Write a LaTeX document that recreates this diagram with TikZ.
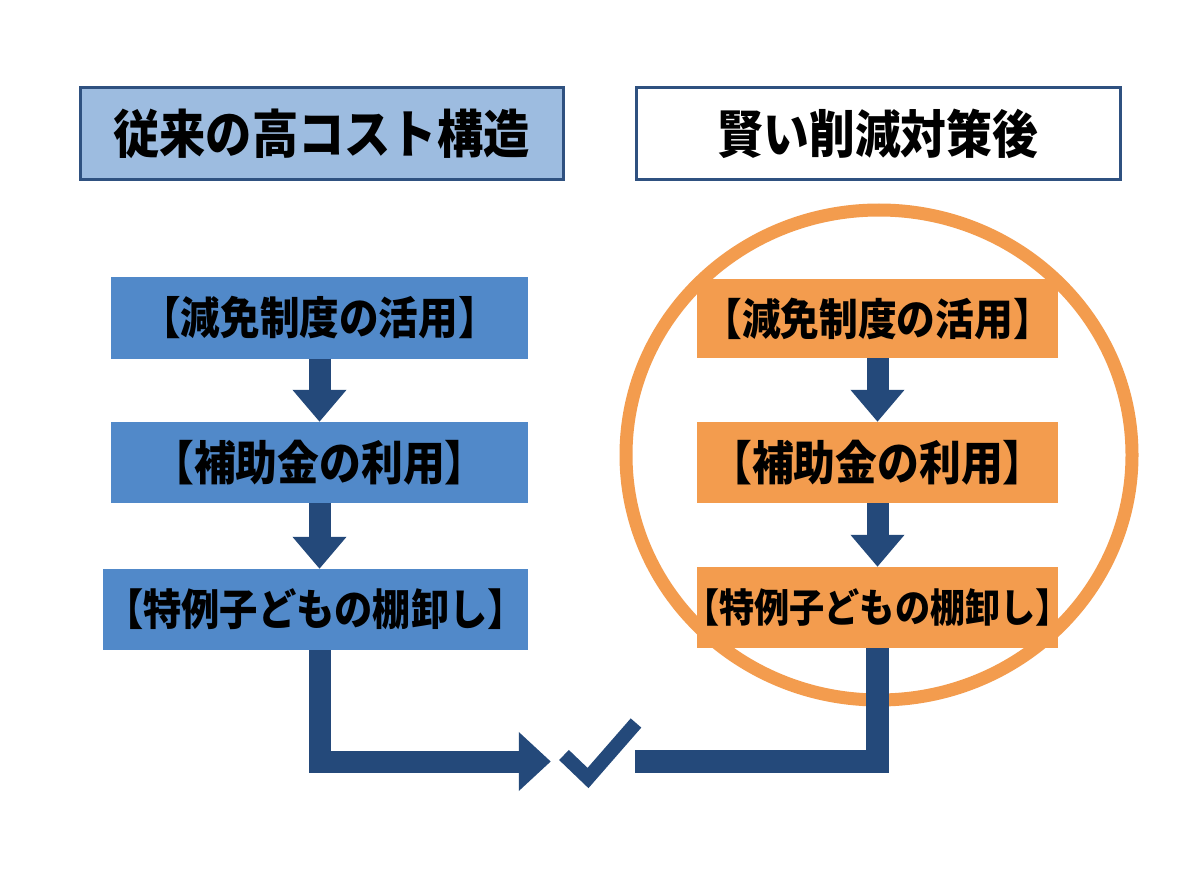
\documentclass[tikz,border=0pt]{standalone}
\usepackage{fontspec}
\newfontfamily\jp{Noto Sans CJK JP}[FakeStretch=0.89]
\usetikzlibrary{arrows.meta}
\definecolor{hdrfill}{HTML}{9DBCE0}
\definecolor{hdrline}{HTML}{2F5180}
\definecolor{boxblue}{HTML}{5189C9}
\definecolor{darkblue}{HTML}{24497A}
\definecolor{orange}{HTML}{F39C4E}
\tikzset{
  hdr/.style={draw=hdrline, line width=3pt, minimum height=92pt, minimum width=483pt, inner sep=0pt, text=black},
  flowbox/.style={minimum height=81pt, inner sep=0pt, text=black},
  bluebox/.style={flowbox, fill=boxblue},
  orangebox/.style={flowbox, fill=orange},
  flow/.style={draw=darkblue, line width=22pt, line join=miter, -{Triangle[width=52pt,length=32pt]}},
  conn/.style={draw=darkblue, line width=23pt, line join=miter},
  tick/.style={draw=darkblue, line width=14pt, line join=miter},
}
\begin{document}
\begin{tikzpicture}[x=1pt,y=-1pt]
\fill[white] (0,0) rectangle (1200,896);
\useasboundingbox (0,0) rectangle (1200,896);

% headers
\node[hdr, fill=hdrfill, font=\jp\bfseries\fontsize{52}{60}\selectfont] (hl) at (321.5,134) {従来の高コスト構造};
\node[hdr, fill=white, minimum width=484pt, font=\jp\bfseries\fontsize{51.5}{58}\selectfont] (hr) at (878,134) {賢い削減対策後};

% orange circle
\draw[orange, line width=13pt] (879,455) ellipse [x radius=253, y radius=245];

% left column
\node[bluebox, minimum width=417pt, font=\jp\bfseries\fontsize{44.5}{52}\selectfont] (l1) at (319.5,318) {【減免制度の活用】};
\node[bluebox, minimum width=417pt, font=\jp\bfseries\fontsize{47}{54}\selectfont] (l2) at (319.5,462.5) {【補助金の利用】};
\node[bluebox, minimum width=425pt, inner xsep=-24pt, font=\jp\bfseries\fontsize{43}{50}\selectfont] (l3) at (315.5,609.5) {【特例子どもの棚卸し】};

% right column
\node[orangebox, minimum width=361pt, minimum height=79pt, font=\jp\bfseries\fontsize{43.5}{50}\selectfont] (r1) at (877.5,318.5) {【減免制度の活用】};
\node[orangebox, minimum width=361pt, font=\jp\bfseries\fontsize{47}{54}\selectfont] (r2) at (877.5,462.5) {【補助金の利用】};
\node[orangebox, minimum width=361pt, inner xsep=-37pt, font=\jp\bfseries\fontsize{39.5}{46}\selectfont] (r3) at (877.5,607.5) {【特例子どもの棚卸し】};

% vertical arrows
\draw[flow] (l1.south) -- (l2.north);
\draw[flow] (l2.south) -- (l2.south |- l3.north);
\draw[flow] (r1.south) -- (r2.north);
\draw[flow] (r2.south) -- (r3.north);

% check mark
\node[minimum width=84pt, minimum height=60pt, inner sep=0pt] (check) at (593,761.5) {};
\draw[tick] ([shift={(-29,-6.5)}]check.center) -- ([shift={(-5,16.5)}]check.center) -- ([shift={(43,-38.5)}]check.center);

% bottom connectors
\draw[flow, -{Triangle[width=57pt,length=32pt]}] (l3.south -| l2.south) |- (check.west);
\draw[conn] (r3.south) |- (check.east);
\end{tikzpicture}
\end{document}
